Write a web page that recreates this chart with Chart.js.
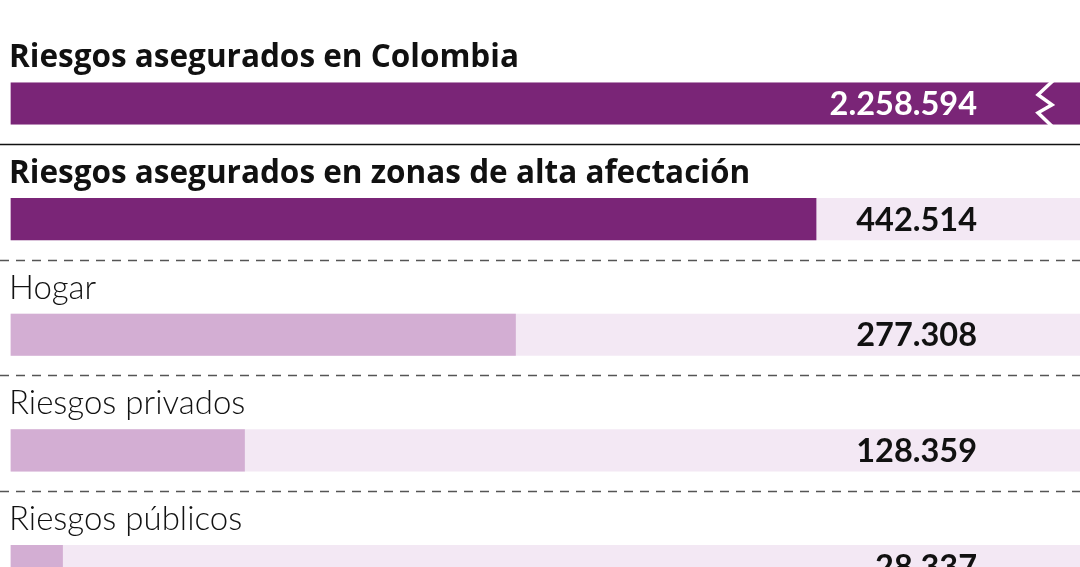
<!DOCTYPE html>
<html lang="es">
<head>
  <meta charset="UTF-8">
  <title>Riesgos asegurados en Colombia</title>
  <style>
    * { margin: 0; padding: 0; box-sizing: border-box; }
    body { background: #fff; width: 1080px; height: 567px; overflow: hidden; }
    #chart { display: block; }
  </style>
</head>
<body>
  <canvas id="chart" width="1080" height="567"></canvas>

  <script src="https://cdn.jsdelivr.net/npm/chart.js"></script>
  <script>
    // Data
    const categories = [
      'Riesgos asegurados en Colombia',
      'Riesgos asegurados en zonas de alta afectación',
      'Hogar',
      'Riesgos privados',
      'Riesgos públicos'
    ];
    const values = [2258594, 442514, 277308, 128359, 28337];
    const isTotal = [true, true, false, false, false];   // bold title + dark bar
    const brokenBar = [true, false, false, false, false]; // bar cut with a zigzag

    // x axis ends at the right edge; the first bar runs past it
    const axisMax = 587600;

    const dark = '#7a2577';
    const light = '#d3aed3';
    const track = '#f3e8f4';

    function fmt(n) {
      return String(n).replace(/\B(?=(\d{3})+(?!\d))/g, '.');
    }

    // titles, values, separators and the break mark
    const decorations = {
      id: 'decorations',
      afterDatasetsDraw(chart) {
        const ctx = chart.ctx;
        const y = chart.scales.y;
        const half = 41.5 / 2;
        ctx.save();
        categories.forEach((label, i) => {
          const cy = y.getPixelForValue(i);

          // category label above the bar
          ctx.fillStyle = '#111';
          ctx.textAlign = 'left';
          ctx.textBaseline = 'alphabetic';
          ctx.font = isTotal[i] ? 'bold 31.5px "Open Sans", Lato, sans-serif'
                                : '300 33px Lato, "Open Sans", sans-serif';
          ctx.fillText(label, 9, cy - half - 15.5);

          // zigzag break
          if (brokenBar[i]) {
            const bx = chart.chartArea.right - 28;
            ctx.strokeStyle = '#fff';
            ctx.lineWidth = 3.5;
            ctx.lineJoin = 'miter';
            ctx.beginPath();
            ctx.moveTo(bx + 1, cy - half - 2);
            ctx.lineTo(bx - 14, cy - half + 12);
            ctx.lineTo(bx, cy - half + 22);
            ctx.lineTo(bx - 14, cy - half + 30);
            ctx.lineTo(bx, cy + half + 2);
            ctx.stroke();
          }

          // value
          ctx.fillStyle = brokenBar[i] ? '#fff' : '#111';
          ctx.textAlign = 'right';
          ctx.font = 'bold 32.5px Lato, "Open Sans", sans-serif';
          ctx.fillText(fmt(values[i]), 977, cy + 11.5);

          // separator under the bar
          if (i < categories.length - 1) {
            const ly = Math.round(cy + 40.5) + 0.5;
            ctx.beginPath();
            if (i === 0) {
              ctx.setLineDash([]);
              ctx.strokeStyle = '#111';
              ctx.lineWidth = 1.5;
            } else {
              ctx.setLineDash([9, 7]);
              ctx.strokeStyle = '#555';
              ctx.lineWidth = 1.5;
            }
            ctx.moveTo(0, ly);
            ctx.lineTo(chart.width, ly);
            ctx.stroke();
            ctx.setLineDash([]);
          }
        });
        ctx.restore();
      }
    };

    new Chart(document.getElementById('chart'), {
      type: 'bar',
      data: {
        labels: categories,
        datasets: [
          {
            label: 'Valor',
            data: values,
            backgroundColor: values.map((v, i) => isTotal[i] ? dark : light),
            barThickness: 41.5,
            grouped: false,
            clip: false,
            order: 1
          },
          {
            label: 'Fondo',
            data: categories.map(() => axisMax),
            backgroundColor: track,
            barThickness: 41.5,
            grouped: false,
            clip: false,
            order: 2
          }
        ]
      },
      options: {
        indexAxis: 'y',
        responsive: false,
        animation: false,
        layout: { padding: { left: 11, right: 0, top: 103.5, bottom: 1 } },
        plugins: {
          legend: { display: false },
          tooltip: { enabled: false }
        },
        scales: {
          x: { display: false, min: 0, max: axisMax },
          y: { display: false, offset: false }
        }
      },
      plugins: [decorations]
    });
  </script>
</body>
</html>
